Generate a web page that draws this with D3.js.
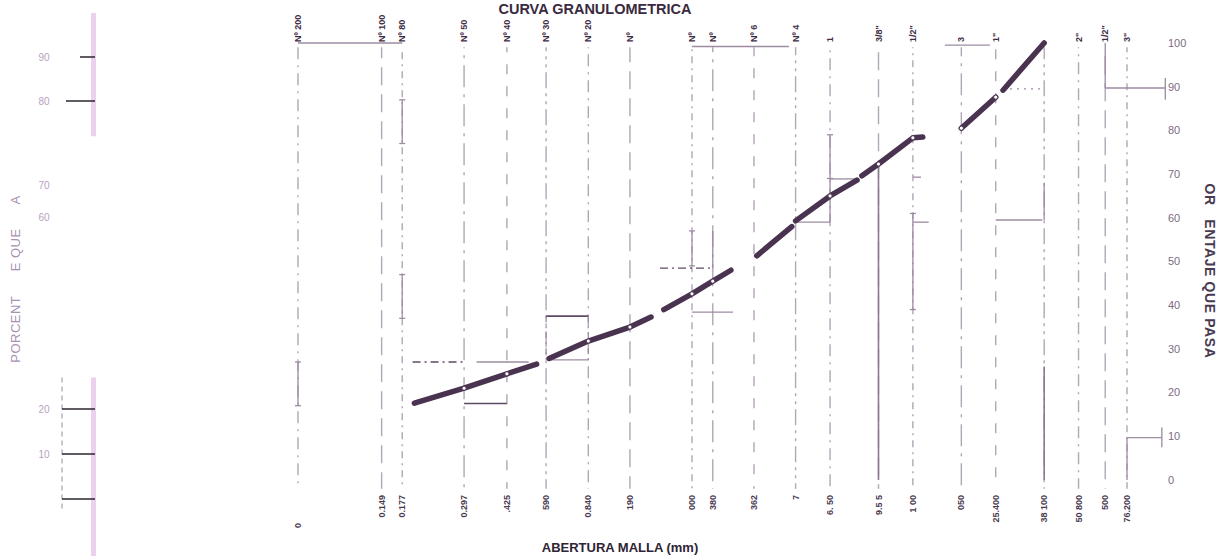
<!DOCTYPE html>
<html>
<head>
<meta charset="utf-8">
<script src="https://cdn.jsdelivr.net/npm/d3@7"></script>
<style>
  body { margin: 0; background: #fff; }
  svg { display: block; font-family: "Liberation Sans", Arial, sans-serif; }
</style>
</head>
<body>
<svg id="chart" width="1228" height="556"></svg>
<script>
// Sieve series: opening in mm, sieve designation, printed opening label
const sieveMm = [0.074, 0.149, 0.177, 0.297, 0.425, 0.590, 0.840, 1.190, 2.000, 2.380, 3.360,
                 4.760, 6.350, 9.525, 12.700, 19.050, 25.400, 38.100, 50.800, 63.500, 76.200];
const sieveNames = ["Nº 200", "Nº 100", "Nº 80", "Nº 50", "Nº 40", "Nº 30", "Nº 20", "Nº", "Nº", "Nº",
                    "Nº 6", "Nº 4", "1", "3/8\"", "1/2\"", "3", "1\"", "", "2\"", "1/2\"", "3\""];
const openingLabels = ["0", "0.149", "0.177", "0.297", ".425", "590", "0.840", "190", "000", "380",
                       "362", "7", "6. 50", "9.5 5", "1   00", "050", "25.400", "38 100", "50 800", "500", "76.200"];

// Percent passing axis
const percentTicks = [0, 10, 20, 30, 40, 50, 60, 70, 80, 90, 100];

// Grading curve, drawn as separate strokes (mm, % passing)
const curveMm = [
  [0.196, 0.297, 0.425, 0.545],
  [0.605, 0.840, 1.190, 1.42],
  [1.58, 2.000, 2.380, 2.77],
  [3.44, 4.61],
  [4.76, 6.350, 7.96],
  [8.29, 9.525, 12.700, 13.8],
  [19.050, 25.400],
  [27.0, 38.100]
];
const curvePct = [
  [17.6, 21.0, 24.3, 26.5],
  [27.8, 31.8, 35.0, 37.3],
  [39.0, 42.6, 45.5, 48.0],
  [51.3, 58.0],
  [59.3, 65.0, 68.6],
  [69.6, 72.3, 78.3, 78.5],
  [80.5, 87.6],
  [89.2, 100]
];

// Measured points on the curve
const pointMm  = [0.297, 0.425, 0.840, 1.190, 2.000, 2.380, 6.350, 9.525, 12.700, 19.050, 25.400];
const pointPct = [21.0, 24.3, 31.8, 35.0, 42.6, 45.5, 65.0, 72.3, 78.3, 80.5, 87.6];

// Horizontal limit marks: from mm, to mm, % passing
const hFrom = [0.074, 0.297, 0.193, 0.33, 0.590, 0.600, 1.53, 2.000, 2.0, 4.760, 6.350, 12.70, 12.70, 25.40, 27.0, 16.6, 63.5, 76.2];
const hTo   = [0.177, 0.425, 0.297, 0.51, 0.840, 0.840, 2.38, 2.820, 4.5, 6.350, 7.900, 13.60, 14.50, 37.50, 38.1, 24.2, 105,  102];
const hPct  = [100,   17.5,  27.0,  27.0, 37.5,  27.5,  48.5, 38.4,  99.2, 59.0, 68.9,  69.3,  59.0,  59.5,  89.5, 99.5, 89.7, 9.7];
const hKind = ["s", "d", "dd", "s", "d", "s", "dd", "s", "s", "s", "s", "s", "s", "s", "dot", "s", "s", "s"];

// Vertical limit marks: at mm, from %, to %
const vMm   = [9.525, 38.100, 6.350, 6.350, 63.5, 76.2, 38.100, 0.590, 0.840, 2.380, 2.000, 12.70, 105, 102, 0.177, 0.074, 0.177];
const vTop  = [72.3,  26.0,   79.0,  68.9,  100,  9.7,  68.0,   37.5,  37.5,  57.0,  57.0,  61.0,  92,  12,  77.0,  27.0,  47.0];
const vBot  = [0,     0,      69.0,  59.0,  89.7, 0,    59.5,   27.5,  27.5,  48.5,  49.0,  39.0,  87,  7.5, 87.0,  17.0,  37.0];
const vKind = ["s", "s", "i", "s", "s", "s", "s", "dd", "dd", "s", "i", "i", "s", "s", "i", "i", "i"];

// Marginal strip ticks at the left edge
const stripUpper = [90, 80];
const stripMid = [70, 60];
const stripLower = [20, 10, 0];

const svg = d3.select("#chart");

const x = d3.scaleLog().domain([0.074, 76.2]).range([298, 1127]);
const y = d3.scaleLinear().domain([0, 100]).range([480, 43]);

const gridColor = "#a697aa";
const inkColor = "#4a3350";
const dashPatterns = ["12 6 2 6", "18 9", "7 5 2 5", "22 7 3 7", "10 12", "16 5 3 5 3 5"];

// Vertical sieve lines
svg.append("g").selectAll("line").data(sieveMm).join("line")
  .attr("x1", d => x(d)).attr("x2", d => x(d))
  .attr("y1", y(99)).attr("y2", y(-2))
  .attr("stroke", gridColor)
  .attr("stroke-width", 1.4)
  .attr("stroke-dasharray", (d, i) => dashPatterns[i % dashPatterns.length])
  .attr("stroke-dashoffset", (d, i) => (i * 7) % 23)
  .attr("opacity", 0.85);

// Horizontal limit marks
const dashFor = k => k === "dd" ? "8 4 2 4" : k === "dot" ? "2 5" : null;
svg.append("g").selectAll("line").data(hPct).join("line")
  .attr("x1", (d, i) => x(hFrom[i])).attr("x2", (d, i) => x(hTo[i]))
  .attr("y1", d => y(d)).attr("y2", d => y(d))
  .attr("stroke", (d, i) => hKind[i] === "d" || hKind[i] === "dd" ? "#5e4a64" : "#9d8ba2")
  .attr("stroke-width", (d, i) => hKind[i] === "d" ? 1.6 : 1.3)
  .attr("stroke-dasharray", (d, i) => dashFor(hKind[i]));

// Vertical limit marks (with caps where drawn as I-bars)
const vg = svg.append("g");
vMm.forEach((m, i) => {
  const col = i < 2 ? "#8a7890" : "#9d8ba2";
  vg.append("line")
    .attr("x1", x(m)).attr("x2", x(m))
    .attr("y1", y(vTop[i])).attr("y2", y(vBot[i]))
    .attr("stroke", col)
    .attr("stroke-width", i < 2 ? 1.6 : 1.3)
    .attr("stroke-dasharray", vKind[i] === "dd" ? "6 4 2 4" : null);
  if (vKind[i] === "i") {
    [vTop[i], vBot[i]].forEach(p => {
      vg.append("line")
        .attr("x1", x(m) - 3).attr("x2", x(m) + 3)
        .attr("y1", y(p)).attr("y2", y(p))
        .attr("stroke", col).attr("stroke-width", 1.3);
    });
  }
});

// Grading curve strokes
const line = d3.line().x(d => x(d[0])).y(d => y(d[1]));
svg.append("g").selectAll("path").data(curveMm.map((ms, i) => ms.map((m, j) => [m, curvePct[i][j]])))
  .join("path")
  .attr("d", line)
  .attr("fill", "none")
  .attr("stroke", inkColor)
  .attr("stroke-width", 5.5)
  .attr("stroke-linecap", "round")
  .attr("stroke-linejoin", "round");

// Points on the curve
svg.append("g").selectAll("circle").data(pointMm).join("circle")
  .attr("cx", d => x(d))
  .attr("cy", (d, i) => y(pointPct[i]))
  .attr("r", 2.1)
  .attr("fill", "#fff")
  .attr("stroke", inkColor)
  .attr("stroke-width", 1);

// Sieve designations along the top
svg.append("g").selectAll("text").data(sieveNames).join("text")
  .attr("transform", (d, i) => `translate(${x(sieveMm[i]) + 3},42) rotate(-90)`)
  .attr("text-anchor", "start")
  .attr("font-size", 9)
  .attr("font-weight", "bold")
  .attr("fill", "#3e2c44")
  .text(d => d);

// Sieve openings along the bottom
svg.append("g").selectAll("text").data(openingLabels).join("text")
  .attr("transform", (d, i) => `translate(${x(sieveMm[i]) + 3},${i === 0 ? 528 : 495}) rotate(-90)`)
  .attr("text-anchor", (d, i) => i === 0 ? "start" : "end")
  .attr("font-size", 9)
  .attr("font-weight", 600)
  .attr("fill", "#4a3a50")
  .text(d => d);

// Percent axis on the right
svg.append("g").selectAll("text").data(percentTicks).join("text")
  .attr("x", 1168).attr("y", d => y(d))
  .attr("dy", "0.35em")
  .attr("font-size", 11)
  .attr("fill", "#7d6b82")
  .text(d => d);

// Titles
svg.append("text")
  .attr("x", 595).attr("y", 14)
  .attr("text-anchor", "middle")
  .attr("font-size", 14.5).attr("font-weight", "bold")
  .attr("fill", "#3a2a40")
  .text("CURVA GRANULOMETRICA");

svg.append("text")
  .attr("x", 620).attr("y", 552)
  .attr("text-anchor", "middle")
  .attr("font-size", 13).attr("font-weight", "bold")
  .attr("fill", "#2e2434")
  .text("ABERTURA MALLA (mm)");

svg.append("text")
  .attr("transform", "translate(1205,271) rotate(90)")
  .attr("text-anchor", "middle")
  .attr("font-size", 14).attr("font-weight", "bold")
  .attr("letter-spacing", 0.6)
  .attr("fill", "#4a3a50")
  .attr("xml:space", "preserve")
  .text("OR   ENTAJE QUE PASA");

svg.append("text")
  .attr("transform", "translate(20,279) rotate(-90)")
  .attr("text-anchor", "middle")
  .attr("font-size", 13)
  .attr("letter-spacing", 0.5)
  .attr("fill", "#a892b3")
  .attr("xml:space", "preserve")
  .text("PORCENT      E QUE      A");

// Marginal strip on the left edge
const strip = svg.append("g");
const yUp = d3.scaleLinear().domain([80, 90]).range([101, 57]);
const yMid = d3.scaleLinear().domain([60, 70]).range([217, 185]);
const yLow = d3.scaleLinear().domain([0, 20]).range([499, 409]);
strip.append("rect").attr("x", 91).attr("y", yUp(100)).attr("width", 5).attr("height", yUp(72) - yUp(100))
  .attr("fill", "#e7c9ea").attr("opacity", 0.85);
strip.append("rect").attr("x", 91).attr("y", yLow(27)).attr("width", 5).attr("height", 556 - yLow(27))
  .attr("fill", "#e7c9ea").attr("opacity", 0.85);
strip.append("line").attr("x1", 62).attr("x2", 62).attr("y1", yLow(27)).attr("y2", yLow(-3))
  .attr("stroke", "#9b8ca0").attr("stroke-width", 1).attr("stroke-dasharray", "5 4");
strip.selectAll(".tu").data(stripUpper).join("line")
  .attr("x1", (d, i) => i === 0 ? 80 : 66).attr("x2", 95)
  .attr("y1", d => yUp(d)).attr("y2", d => yUp(d))
  .attr("stroke", "#2c2430").attr("stroke-width", 1.5);
strip.selectAll(".tl").data(stripLower).join("line")
  .attr("x1", 62).attr("x2", 95)
  .attr("y1", d => yLow(d)).attr("y2", d => yLow(d))
  .attr("stroke", "#2c2430").attr("stroke-width", 1.5);
const stripText = (vals, sc) => strip.append("g").selectAll("text").data(vals).join("text")
  .attr("x", 44).attr("y", d => sc(d)).attr("dy", "0.35em")
  .attr("text-anchor", "middle")
  .attr("font-size", 10).attr("fill", "#b7a2bf")
  .text(d => d);
stripText(stripUpper, yUp);
stripText(stripMid, yMid);
stripText(stripLower.slice(0, 2), yLow);
</script>
</body>
</html>
